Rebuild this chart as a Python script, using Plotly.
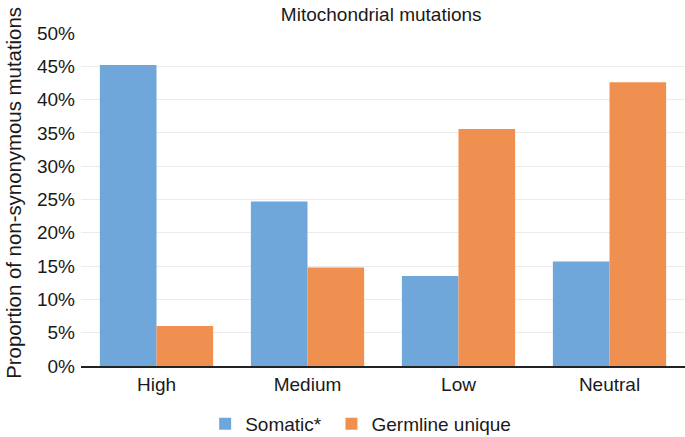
import plotly.graph_objects as go

categories = ["High", "Medium", "Low", "Neutral"]
somatic = [0.452, 0.247, 0.135, 0.157]
germline = [0.060, 0.148, 0.356, 0.426]
y_ticks = [0, 0.05, 0.10, 0.15, 0.20, 0.25, 0.30, 0.35, 0.40, 0.45, 0.50]
y_ticklabels = ["0%", "5%", "10%", "15%", "20%", "25%", "30%", "35%", "40%", "45%", "50%"]

FONT = "Liberation Sans, Arial, Helvetica, sans-serif"
TXT = "#1a1a1a"

fig = go.Figure()
fig.add_trace(go.Bar(x=categories, y=somatic, name="Somatic* ",
                     marker=dict(color="#6FA7DB", line=dict(width=0))))
fig.add_trace(go.Bar(x=categories, y=germline, name="Germline unique",
                     marker=dict(color="#EF9050", line=dict(width=0))))

fig.update_layout(
    width=685, height=437,
    margin=dict(l=81, r=0, t=33, b=71, autoexpand=False),
    paper_bgcolor="white", plot_bgcolor="white",
    barmode="group", bargap=0.25, bargroupgap=0,
    font=dict(family=FONT, color=TXT, size=19),
    title=dict(text="Mitochondrial mutations", xref="paper", x=0.497, xanchor="center",
               y=0.968, yanchor="middle",
               font=dict(family=FONT, size=19, color=TXT)),
    legend=dict(orientation="h", x=0.463, xanchor="center", y=-0.174, yanchor="middle",
                font=dict(family=FONT, size=19, color=TXT),
                itemwidth=30, traceorder="normal"),
    xaxis=dict(showline=True, linecolor="#222222", linewidth=1.5,
               ticks="", tickfont=dict(size=19, family=FONT, color=TXT),
               automargin=False),
    yaxis=dict(range=[0, 0.5], tickvals=y_ticks, ticktext=y_ticklabels,
               showgrid=True, gridcolor="#EBEBEB", gridwidth=1,
               zeroline=False, ticks="", ticklen=0, ticklabelstandoff=5,
               tickfont=dict(size=19, family=FONT, color=TXT),
               automargin=False),
    annotations=[dict(text="Proportion of non-synonymous mutations",
                      xref="paper", yref="paper", x=-0.111, y=0.52,
                      xanchor="center", yanchor="middle", textangle=-90,
                      showarrow=False, font=dict(size=20.4, family=FONT, color=TXT))],
)

fig.write_html("out.html", config={"displayModeBar": False},
               post_script="document.body.style.margin='0';document.body.style.padding='0';")
